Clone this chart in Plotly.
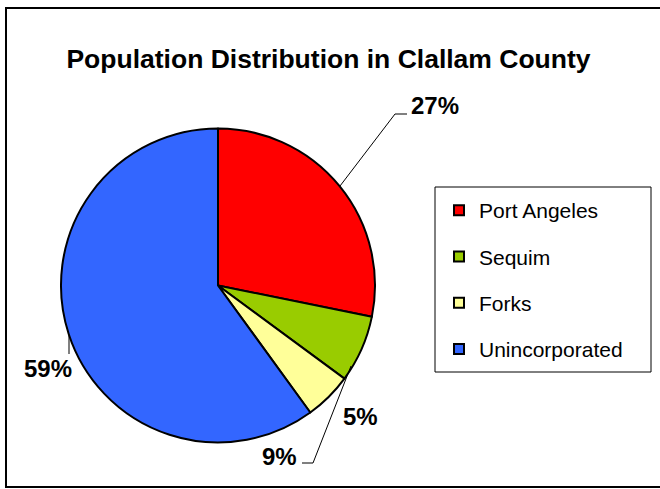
import plotly.graph_objects as go

W, H = 660, 489

regions = ["Port Angeles", "Sequim", "Forks", "Unincorporated"]
shares = [28.2, 6.9, 4.9, 60.0]
pct_labels = ["27%", "9%", "5%", "59%"]
colors = ["#FF0000", "#99CC00", "#FFFF99", "#3366FF"]

FONT = "Liberation Sans, Arial, sans-serif"


def px(x, y):
    # pixel (from top-left) -> paper coords
    return x / W, 1 - y / H


# pie geometry in pixels
cx, cy, r = 218, 285.5, 157
x0, y0 = px(cx - r, cy + r)
x1, y1 = px(cx + r, cy - r)

fig = go.Figure()
fig.add_trace(
    go.Pie(
        labels=regions,
        values=shares,
        sort=False,
        direction="clockwise",
        rotation=0,
        textinfo="none",
        showlegend=False,
        marker=dict(colors=colors, line=dict(color="black", width=2)),
        domain=dict(x=[x0, x1], y=[y0, y1]),
    )
)

# legend entries
for name, c in zip(regions, colors):
    fig.add_trace(
        go.Scatter(
            x=[None], y=[None], mode="markers", name=name, legendgroup=name,
            marker=dict(symbol="square", size=10, color=c,
                        line=dict(color="black", width=2)),
        )
    )

# percentage labels and leader lines
label_pos = [(435, 106), (279, 456), (360, 416), (48, 368)]
annotations = []
for txt, (lx, ly) in zip(pct_labels, label_pos):
    ax, ay = px(lx, ly)
    annotations.append(dict(
        x=ax, y=ay, xref="paper", yref="paper", text=txt, showarrow=False,
        font=dict(family=FONT, size=24, color="black", weight="bold"),
        xanchor="center", yanchor="middle",
    ))

leaders = [
    [(340, 186), (395, 114), (407, 114)],
    [(351, 366), (313, 463), (302, 463)],
    [(69, 335), (69, 354)],
]
shapes = []
for pts in leaders:
    for (ax_, ay_), (bx_, by_) in zip(pts[:-1], pts[1:]):
        a, b = px(ax_, ay_), px(bx_, by_)
        shapes.append(dict(type="line", xref="paper", yref="paper",
                           x0=a[0], y0=a[1], x1=b[0], y1=b[1],
                           line=dict(color="black", width=1)))

# legend box
lb0, lb1 = px(435, 372), px(651, 187)
shapes.append(dict(type="rect", xref="paper", yref="paper",
                   x0=lb0[0], y0=lb0[1], x1=lb1[0], y1=lb1[1],
                   line=dict(color="black", width=1)))
# outer frame
f0, f1 = px(6, 487), px(672, 8)
shapes.append(dict(type="rect", xref="paper", yref="paper",
                   x0=f0[0], y0=f0[1], x1=f1[0], y1=f1[1],
                   line=dict(color="black", width=2)))

lgx, lgy = px(439, 190)
fig.update_layout(
    width=W, height=H, autosize=False,
    margin=dict(l=0, r=0, t=0, b=0),
    paper_bgcolor="white", plot_bgcolor="white",
    font=dict(family=FONT, color="black"),
    title=dict(
        text="Population Distribution in Clallam County",
        x=328.5 / W, y=1 - 59 / H, xanchor="center", yanchor="middle",
        font=dict(family=FONT, size=26.5, color="black", weight="bold"),
    ),
    xaxis=dict(visible=False), yaxis=dict(visible=False),
    showlegend=True,
    legend=dict(
        x=lgx, y=lgy, xanchor="left", yanchor="top",
        bgcolor="rgba(0,0,0,0)", borderwidth=0,
        font=dict(family=FONT, size=21, color="black"),
        tracegroupgap=16, itemwidth=30,
    ),
    annotations=annotations,
    shapes=shapes,
)

# drop the page's default body margin so the chart sits at the window origin
fig.write_html(
    "out.html",
    config={"displayModeBar": False},
    post_script="document.body.style.margin='0';",
)
